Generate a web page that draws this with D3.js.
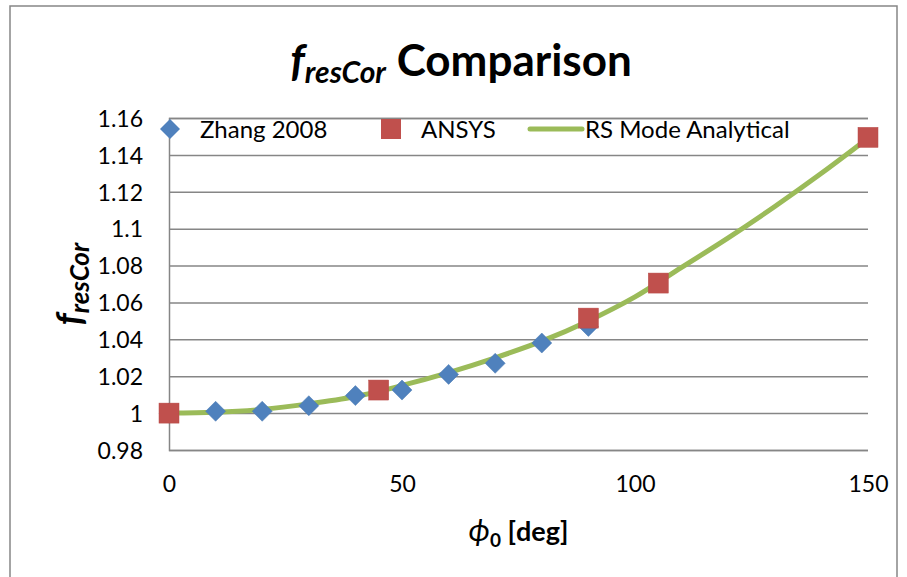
<!DOCTYPE html>
<html>
<head>
<meta charset="utf-8">
<script src="https://cdn.jsdelivr.net/npm/d3@7"></script>
<style>
  body { margin: 0; background: #fff; }
  text { font-family: Lato, "Open Sans", sans-serif; fill: #000; }
</style>
</head>
<body>
<div id="chart"></div>
<script>
// data
const zhangX = [0, 10, 20, 30, 40, 50, 60, 70, 80, 90];
const zhangY = [1.000, 1.001, 1.001, 1.004, 1.0095, 1.0125, 1.021, 1.027, 1.038, 1.047];

const ansysX = [0, 45, 90, 105, 150];
const ansysY = [1.000, 1.0125, 1.0515, 1.0705, 1.1495];

const rsX = [0, 10, 20, 30, 40, 50, 60, 70, 80, 90, 100, 110, 120, 130, 140, 150];
const rsY = [1.000, 1.0005, 1.002, 1.005, 1.009, 1.015, 1.022, 1.030, 1.039, 1.050, 1.063, 1.079, 1.095, 1.112, 1.130, 1.149];

const xTicks = [0, 50, 100, 150];
const yTicks = [0.98, 1, 1.02, 1.04, 1.06, 1.08, 1.1, 1.12, 1.14, 1.16];

const W = 907, H = 577;
const plot = {left: 169, right: 868, top: 118, bottom: 450};
const colors = {zhang: '#4F81BD', ansys: '#C0504D', rs: '#9BBB59', grid: '#868686'};

const svg = d3.select('#chart').append('svg')
    .attr('width', W)
    .attr('height', H);

// outer chart frame
svg.append('rect')
    .attr('x', 10).attr('y', 6)
    .attr('width', 887).attr('height', 600)
    .attr('fill', '#fff')
    .attr('stroke', colors.grid)
    .attr('stroke-width', 1.5);

const x = d3.scaleLinear().domain([0, 150]).range([plot.left, plot.right]);
const y = d3.scaleLinear().domain([0.98, 1.16]).range([plot.bottom, plot.top]);

// horizontal gridlines
const yAxis = d3.axisLeft(y)
    .tickValues(yTicks)
    .tickSize(-(plot.right - plot.left))
    .tickPadding(26)
    .tickFormat(d => d3.format('')(+d.toFixed(2)));

const yg = svg.append('g')
    .attr('transform', `translate(${plot.left},0)`)
    .call(yAxis);
yg.select('.domain').attr('stroke', colors.grid).attr('stroke-width', 1.5);
yg.selectAll('.tick line').attr('stroke', colors.grid).attr('stroke-width', 1.5);
yg.selectAll('.tick text')
    .style('font-family', 'Lato, sans-serif')
    .style('font-size', '23px')
    .attr('dy', '0.36em');

const xAxis = d3.axisBottom(x)
    .tickValues(xTicks)
    .tickSize(0)
    .tickPadding(26)
    .tickFormat(d3.format('d'));

const xg = svg.append('g')
    .attr('transform', `translate(0,${plot.bottom})`)
    .call(xAxis);
xg.select('.domain').remove();
xg.selectAll('.tick text')
    .style('font-family', 'Lato, sans-serif')
    .style('font-size', '23px');

// RS Mode Analytical line
const rsData = rsX.map((d, i) => [d, rsY[i]]);
const line = d3.line()
    .x(d => x(d[0]))
    .y(d => y(d[1]))
    .curve(d3.curveCatmullRom);

svg.append('path')
    .datum(rsData)
    .attr('d', line)
    .attr('fill', 'none')
    .attr('stroke', colors.rs)
    .attr('stroke-width', 5)
    .attr('stroke-linecap', 'round');

// Zhang 2008 diamonds
const diamond = d3.symbol().type(d3.symbolSquare).size(200);
svg.selectAll('.zhang')
    .data(zhangX.map((d, i) => [d, zhangY[i]]))
    .join('path')
    .attr('class', 'zhang')
    .attr('d', diamond)
    .attr('transform', d => `translate(${x(d[0])},${y(d[1])}) rotate(45)`)
    .attr('fill', colors.zhang)
    .attr('stroke', '#4a7ab3')
    .attr('stroke-width', 0.5);

// ANSYS squares
const sq = 20;
svg.selectAll('.ansys')
    .data(ansysX.map((d, i) => [d, ansysY[i]]))
    .join('rect')
    .attr('class', 'ansys')
    .attr('x', d => x(d[0]) - sq / 2)
    .attr('y', d => y(d[1]) - sq / 2)
    .attr('width', sq)
    .attr('height', sq)
    .attr('fill', colors.ansys)
    .attr('stroke', '#b84a47')
    .attr('stroke-width', 0.5);

// legend
const legY = 129;
const leg = svg.append('g');
leg.append('path')
    .attr('d', diamond)
    .attr('transform', `translate(170,${legY}) rotate(45)`)
    .attr('fill', colors.zhang);
leg.append('text')
    .attr('x', 200).attr('y', legY).attr('dy', '0.36em')
    .style('font-size', '24px')
    .text('Zhang 2008');
leg.append('rect')
    .attr('x', 391 - sq / 2).attr('y', legY - sq / 2)
    .attr('width', sq).attr('height', sq)
    .attr('fill', colors.ansys);
leg.append('text')
    .attr('x', 421).attr('y', legY).attr('dy', '0.36em')
    .style('font-size', '24px')
    .text('ANSYS');
leg.append('line')
    .attr('x1', 530).attr('x2', 582)
    .attr('y1', legY).attr('y2', legY)
    .attr('stroke', colors.rs)
    .attr('stroke-width', 5)
    .attr('stroke-linecap', 'round');
leg.append('text')
    .attr('x', 585).attr('y', legY).attr('dy', '0.36em')
    .style('font-size', '24px')
    .text('RS Mode Analytical');

// title
const title = svg.append('text')
    .attr('x', 461)
    .attr('y', 76)
    .attr('text-anchor', 'middle')
    .style('font-weight', 'bold')
    .style('font-size', '44px');
title.append('tspan').style('font-style', 'italic').text('f');
title.append('tspan').style('font-style', 'italic').style('font-size', '30px')
    .attr('dy', 7).text('resCor');
title.append('tspan').attr('dy', -7).text(' Comparison');

// y axis title
const ytitle = svg.append('text')
    .attr('transform', `translate(82,${(plot.top + plot.bottom) / 2}) rotate(-90)`)
    .attr('text-anchor', 'middle')
    .style('font-weight', 'bold')
    .style('font-style', 'italic')
    .style('font-size', '36px');
ytitle.append('tspan').text('f');
ytitle.append('tspan').style('font-size', '26px').attr('dy', 7).text('resCor');

// x axis title
const xtitle = svg.append('text')
    .attr('x', (plot.left + plot.right) / 2)
    .attr('y', 541)
    .attr('text-anchor', 'middle')
    .style('font-weight', 'bold')
    .style('font-size', '27px');
xtitle.append('tspan').style('font-style', 'italic').style('font-weight', 'normal')
    .style('font-size', '31px').text('ϕ');
xtitle.append('tspan').style('font-size', '19px').attr('dy', 6).text('0');
xtitle.append('tspan').attr('dy', -6).text(' [deg]');
</script>
</body>
</html>
